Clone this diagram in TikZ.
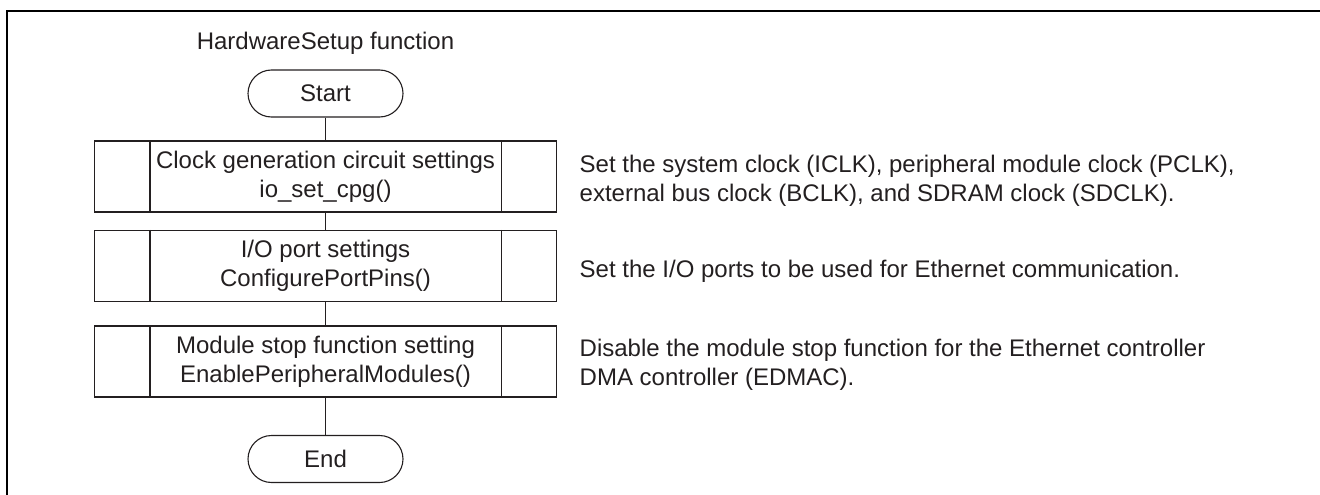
\documentclass[tikz,border=0pt]{standalone}
\usepackage{fontspec}
\setmainfont{Liberation Sans}
\definecolor{ink}{HTML}{231F20}
\begin{document}
\begin{tikzpicture}[x=1pt,y=-1pt,
  font=\fontsize{24}{29}\selectfont, text=ink,
  term/.style={draw=ink, line width=1.1pt, rounded corners=23.5pt, minimum width=155pt, minimum height=47pt, inner sep=0pt},
  proc/.style={draw=ink, line width=1.1pt, minimum width=462pt, minimum height=71pt, inner sep=0pt, align=center},
  note/.style={anchor=west, inner sep=0pt, align=left},
  conn/.style={draw=ink, line width=1.1pt},
  frame/.style={draw=black, line width=2.2pt}]
\useasboundingbox (0,0) rectangle (1320,495);
\draw[frame] (7,495) -- (7,11) -- (1320,11);

\node[inner sep=0pt] (title) at (325.5,43.75) {HardwareSetup function};
\node[term] (start) at (325.5,93.5) {Start};
\node[proc] (b1) at (325.5,176.5) {Clock generation circuit settings\\io\_set\_cpg()};
\node[proc] (b2) at (325.5,266) {I/O port settings\\ConfigurePortPins()};
\node[proc] (b3) at (325.5,361.5) {Module stop function setting\\EnablePeripheralModules()};
\node[term] (end) at (325.5,459) {End};

\foreach \b in {b1,b2,b3} {
  \draw[conn] ([xshift=56pt]\b.north west) -- ([xshift=56pt]\b.south west);
  \draw[conn] ([xshift=-56pt]\b.north east) -- ([xshift=-56pt]\b.south east);
}

\draw[conn] (start) -- (b1);
\draw[conn] (b1) -- (b2);
\draw[conn] (b2) -- (b3);
\draw[conn] (b3) -- (end);

\node[note] (n1) at (579.5,181) {Set the system clock (ICLK), peripheral module clock (PCLK),\\external bus clock (BCLK), and SDRAM clock (SDCLK).};
\node[note] (n2) at (579.5,271) {Set the I/O ports to be used for Ethernet communication.};
\node[note] (n3) at (579.5,365) {Disable the module stop function for the Ethernet controller\\DMA controller (EDMAC).};
\end{tikzpicture}
\end{document}
